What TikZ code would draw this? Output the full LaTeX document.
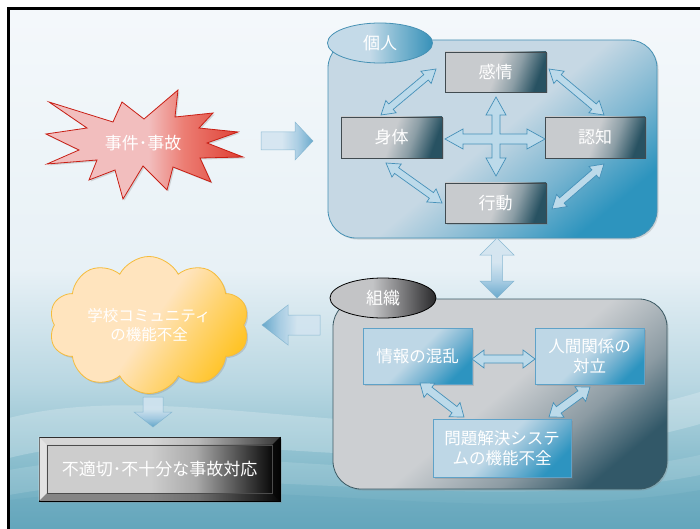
\documentclass[tikz,border=0pt]{standalone}
\usepackage{fontspec}
\setmainfont{Noto Sans CJK JP}
\usetikzlibrary{calc,shapes.symbols,shapes.geometric,shadows}

% palette
\definecolor{bgTop}{RGB}{244,248,251}
\definecolor{bgMid}{RGB}{232,241,246}
\definecolor{bgLow}{RGB}{185,215,226}
\definecolor{bgWave}{RGB}{135,188,204}
\definecolor{bgBot}{RGB}{100,166,188}
\definecolor{gAlight}{RGB}{198,216,228}
\definecolor{gAmid}{RGB}{120,180,208}
\definecolor{gAdark}{RGB}{45,148,190}
\definecolor{gAline}{RGB}{70,145,180}
\definecolor{gBlight}{RGB}{204,207,210}
\definecolor{gBmid}{RGB}{140,155,163}
\definecolor{gBdark}{RGB}{50,88,104}
\definecolor{gBline}{RGB}{60,90,100}
\definecolor{bxGray}{RGB}{200,203,206}
\definecolor{bxMid}{RGB}{140,158,166}
\definecolor{bxDark}{RGB}{40,82,98}
\definecolor{bxLine}{RGB}{65,75,80}
\definecolor{obLight}{RGB}{190,215,230}
\definecolor{obMid}{RGB}{120,180,210}
\definecolor{obDark}{RGB}{45,148,192}
\definecolor{obLine}{RGB}{95,162,200}
\definecolor{elAlight}{RGB}{196,218,232}
\definecolor{elAmid}{RGB}{130,185,210}
\definecolor{elAdark}{RGB}{55,145,185}
\definecolor{elBlight}{RGB}{195,196,198}
\definecolor{elBmid}{RGB}{130,130,132}
\definecolor{elBdark}{RGB}{40,40,42}
\definecolor{burstLight}{RGB}{242,190,190}
\definecolor{burstMid}{RGB}{236,125,115}
\definecolor{burstDark}{RGB}{222,62,50}
\definecolor{burstLine}{RGB}{200,30,20}
\definecolor{cloudLight}{RGB}{255,228,190}
\definecolor{cloudMid}{RGB}{255,212,115}
\definecolor{cloudDark}{RGB}{255,196,40}
\definecolor{cloudLine}{RGB}{245,188,60}
\definecolor{bevLight}{RGB}{205,205,205}
\definecolor{bevMid}{RGB}{170,170,170}
\definecolor{bevDark}{RGB}{10,10,10}
\definecolor{arrLight}{RGB}{210,228,240}
\definecolor{arrMid}{RGB}{160,200,225}
\definecolor{arrDark}{RGB}{85,158,198}
\definecolor{arrLine}{RGB}{70,145,185}
\definecolor{dblFill}{RGB}{188,218,234}

% shadings (25bp = near edge, 75bp = far edge)
\pgfdeclareverticalshading{bgshade}{100bp}{color(0bp)=(bgBot); color(25bp)=(bgBot); color(31bp)=(bgWave); color(39bp)=(bgLow); color(50bp)=(bgMid); color(75bp)=(bgTop); color(100bp)=(bgTop)}
\pgfdeclarehorizontalshading{grpAshade}{100bp}{color(0bp)=(gAlight); color(25bp)=(gAlight); color(50bp)=(gAlight); color(64bp)=(gAmid); color(75bp)=(gAdark); color(100bp)=(gAdark)}
\pgfdeclarehorizontalshading{grpBshade}{100bp}{color(0bp)=(gBlight); color(25bp)=(gBlight); color(50bp)=(gBlight); color(64bp)=(gBmid); color(75bp)=(gBdark); color(100bp)=(gBdark)}
\pgfdeclarehorizontalshading{grayboxshade}{100bp}{color(0bp)=(bxGray); color(25bp)=(bxGray); color(50bp)=(bxGray); color(62bp)=(bxMid); color(75bp)=(bxDark); color(100bp)=(bxDark)}
\pgfdeclarehorizontalshading{blueboxshade}{100bp}{color(0bp)=(obLight); color(25bp)=(obLight); color(48bp)=(obLight); color(62bp)=(obMid); color(75bp)=(obDark); color(100bp)=(obDark)}
\pgfdeclarehorizontalshading{elAshade}{100bp}{color(0bp)=(elAlight); color(25bp)=(elAlight); color(45bp)=(elAlight); color(58bp)=(elAmid); color(75bp)=(elAdark); color(100bp)=(elAdark)}
\pgfdeclarehorizontalshading{elBshade}{100bp}{color(0bp)=(elBlight); color(25bp)=(elBlight); color(45bp)=(elBlight); color(58bp)=(elBmid); color(75bp)=(elBdark); color(100bp)=(elBdark)}
\pgfdeclarehorizontalshading{burstshade}{100bp}{color(0bp)=(burstLight); color(25bp)=(burstLight); color(51bp)=(burstLight); color(60bp)=(burstMid); color(75bp)=(burstDark); color(100bp)=(burstDark)}
\pgfdeclarehorizontalshading{cloudshade}{100bp}{color(0bp)=(cloudLight); color(25bp)=(cloudLight); color(50bp)=(cloudLight); color(62bp)=(cloudMid); color(75bp)=(cloudDark); color(100bp)=(cloudDark)}
\pgfdeclarehorizontalshading{bevshade}{100bp}{color(0bp)=(bevLight); color(25bp)=(bevLight); color(48bp)=(bevLight); color(58bp)=(bevMid); color(75bp)=(bevDark); color(100bp)=(bevDark)}
\pgfdeclarehorizontalshading{arrshade}{100bp}{color(0bp)=(arrLight); color(25bp)=(arrLight); color(45bp)=(arrLight); color(60bp)=(arrMid); color(75bp)=(arrDark); color(100bp)=(arrDark)}

% double-headed block arrow: [style]{end A}{end B}{shaft half}{head half}{head length}
\newcommand\blockdbl[6][]{%
  \coordinate (bdA) at ($(#2)!#6!(#3)$);
  \coordinate (bdB) at ($(#3)!#6!(#2)$);
  \draw[#1] (#2)
    -- ($(bdA)!#5!90:(#3)$) -- ($(bdA)!#4!90:(#3)$)
    -- ($(bdB)!#4!-90:(#2)$) -- ($(bdB)!#5!-90:(#2)$)
    -- (#3)
    -- ($(bdB)!#5!90:(#2)$) -- ($(bdB)!#4!90:(#2)$)
    -- ($(bdA)!#4!-90:(#3)$) -- ($(bdA)!#5!-90:(#3)$)
    -- cycle;}
% single-headed block arrow: [style]{tail}{tip}{shaft half}{head half}{head length}
\newcommand\blocksgl[6][]{%
  \coordinate (bsB) at ($(#3)!#6!(#2)$);
  \draw[#1] ($(#2)!#4!90:(#3)$)
    -- ($(bsB)!#4!-90:(#2)$) -- ($(bsB)!#5!-90:(#2)$)
    -- (#3)
    -- ($(bsB)!#5!90:(#2)$) -- ($(bsB)!#4!90:(#2)$)
    -- ($(#2)!#4!-90:(#3)$) -- cycle;}

\tikzset{
  lbl/.style={text=white, align=center, font=\fontsize{17}{20}\selectfont},
  softshadow/.style={drop shadow={opacity=0.28, shadow xshift=1.5pt, shadow yshift=-1.5pt}},
  grpA/.style={shade, shading=grpAshade, shading angle=-50, draw=gAline, line width=0.8pt,
    rounded corners=28pt, softshadow},
  grpB/.style={shade, shading=grpBshade, shading angle=-50, draw=gBline, line width=0.8pt,
    rounded corners=28pt, softshadow},
  graybox/.style={shade, shading=grayboxshade, shading angle=-20, draw=bxLine, line width=0.7pt,
    lbl, softshadow},
  bluebox/.style={shade, shading=blueboxshade, shading angle=-45, draw=obLine, line width=0.7pt,
    lbl, font=\fontsize{16.5}{20}\selectfont, softshadow},
  tagA/.style={ellipse, shade, shading=elAshade, draw=gAline, line width=0.8pt, lbl,
    minimum width=105pt, minimum height=40pt, inner sep=0pt},
  tagB/.style={ellipse, shade, shading=elBshade, draw=black, line width=0.8pt, lbl,
    minimum width=106pt, minimum height=40pt, inner sep=0pt},
  thinarrow/.style={fill=dblFill, draw=arrLine, line width=0.7pt, line join=miter},
  bigarrow/.style={shade, shading=arrshade, draw=arrLine!70, line width=0.5pt, opacity=0.85},
}

\begin{document}
\begin{tikzpicture}[x=1pt,y=-1pt]
\useasboundingbox (0,0) rectangle (700,529);
\fill[white] (0,0) rectangle (700,529);

% backdrop with soft waves
\shade[shading=bgshade] (9,9) rectangle (700,529);
\fill[white,opacity=0.22] (9,418) .. controls (190,372) and (430,472) .. (700,392)
  -- (700,424) .. controls (430,500) and (190,412) .. (9,458) -- cycle;
\fill[white,opacity=0.12] (9,470) .. controls (230,430) and (470,505) .. (700,455)
  -- (700,475) .. controls (470,520) and (230,455) .. (9,495) -- cycle;
\fill[bgBot,opacity=0.35] (9,500) .. controls (250,470) and (470,529) .. (700,490)
  -- (700,529) -- (9,529) -- cycle;
\draw[line width=2.5pt] (8.5,529) -- (8.5,8.5) -- (700,8.5);

% incident burst
\draw[shade, shading=burstshade, draw=burstLine, line width=0.8pt, line join=miter, softshadow]
  (49,102) -- (113,122) -- (122,102) -- (144,119) -- (178,90) -- (175,117) -- (213,113)
  -- (199,128) -- (238,132) -- (207,143) -- (243,157) -- (200,158) -- (211,182) -- (173,167)
  -- (167,190) -- (143,166) -- (123,199) -- (115,170) -- (89,180) -- (97,160) -- (47,164)
  -- (79,150) -- (46,134) -- (87,128) -- cycle;
\node[lbl] (incident) at (143,143) {事件･事故};

% individual level
\node[grpA, minimum width=329pt, minimum height=198pt] (indiv) at (492.5,139) {};
\node[tagA] (indivtag) at (380,43) {\raisebox{-2pt}{個人}};
\node[graybox, minimum width=101pt, minimum height=40pt] (emotion) at (495.5,72) {感情};
\node[graybox, minimum width=101pt, minimum height=41pt] (body) at (391.5,137.5) {身体};
\node[graybox, minimum width=100pt, minimum height=41pt] (cognition) at (595,137.5) {認知};
\node[graybox, minimum width=101pt, minimum height=40pt] (behavior) at (495.5,203) {行動};

\coordinate (bodyE1) at (381,115);   \coordinate (emoB1) at (436,69);
\coordinate (emoC1) at (549,69);     \coordinate (cogE1) at (604,115);
\coordinate (bodyB1) at (386,163);   \coordinate (behB1) at (442,203);
\coordinate (cogB1) at (604,164);    \coordinate (behC1) at (552,209);
\blockdbl[thinarrow]{bodyE1}{emoB1}{3.5pt}{8pt}{13pt}
\blockdbl[thinarrow]{emoC1}{cogE1}{3.5pt}{8pt}{13pt}
\blockdbl[thinarrow]{bodyB1}{behB1}{3.5pt}{8pt}{13pt}
\blockdbl[thinarrow]{cogB1}{behC1}{3.5pt}{8pt}{13pt}

% four-way arrow in the middle
\draw[thinarrow, fill=dblFill] (496,97) -- (506,115) -- (500,115) -- (500,134) -- (527,134)
  -- (527,129) -- (545,139) -- (527,149) -- (527,144) -- (500,144) -- (500,158) -- (506,158)
  -- (496,176) -- (486,158) -- (492,158) -- (492,144) -- (463,144) -- (463,149) -- (445,139)
  -- (463,129) -- (463,134) -- (492,134) -- (492,115) -- (486,115) -- cycle;

% organisation level
\node[grpB, minimum width=334pt, minimum height=190pt] (org) at (500,394) {};
\node[tagB] (orgtag) at (383,298) {\raisebox{-2pt}{組織}};
\node[bluebox, minimum width=109pt, minimum height=56pt] (info) at (417.5,356) {情報の混乱};
\node[bluebox, minimum width=109pt, minimum height=56pt] (relation) at (589.5,356) {人間関係の\\対立};
\node[bluebox, minimum width=138pt, minimum height=58pt] (system) at (502,448) {問題解決システ\\ムの機能不全};

\coordinate (infoR) at (472,359);    \coordinate (relL) at (535,359);
\coordinate (infoB) at (420,383);    \coordinate (sysL) at (464,417);
\coordinate (relB) at (590,387);     \coordinate (sysR) at (549,417);
\blockdbl[thinarrow]{infoR}{relL}{4pt}{9pt}{12pt}
\blockdbl[thinarrow]{infoB}{sysL}{4pt}{9pt}{12pt}
\blockdbl[thinarrow]{relB}{sysR}{4pt}{9pt}{12pt}

% link between the two levels
\coordinate (indivS) at (497,238);   \coordinate (orgN) at (497,298);
\blockdbl[bigarrow, shading angle=-90]{indivS}{orgN}{5.5pt}{17pt}{17pt}

% incident into the individual
\coordinate (burstE) at (261,141);   \coordinate (indivW) at (313,141);
\blocksgl[bigarrow]{burstE}{indivW}{9pt}{19pt}{18pt}

% school community
\node[cloud, cloud puffs=10, cloud puff arc=125, aspect=1.7, shade, shading=cloudshade,
  shading angle=-35, draw=cloudLine, line width=0.8pt, minimum width=200pt, minimum height=118pt,
  lbl, font=\fontsize{15.5}{19.5}\selectfont, softshadow] (school) at (149,325)
  {学校コミュニティ\\の機能不全};

\coordinate (orgW) at (320,325);     \coordinate (schoolE) at (262,325);
\blocksgl[bigarrow, shading angle=180]{orgW}{schoolE}{10pt}{20pt}{26pt}

\coordinate (schoolS) at (153,397);  \coordinate (respN) at (153,427);
\blocksgl[bigarrow, shading angle=-90]{schoolS}{respN}{10pt}{19pt}{15pt}

% inadequate response (bevelled plate)
\node[shade, shading=bevshade, draw=black, line width=0.8pt, minimum width=241pt,
  minimum height=64pt, softshadow] (resp) at (159.5,469) {};
\fill[white,opacity=0.45] (resp.north west) -- (resp.south west) -- ($(resp.south west)+(8,-8)$)
  -- ($(resp.north west)+(8,8)$) -- cycle;
\fill[white,opacity=0.18] (resp.north west) -- (resp.north east) -- ($(resp.north east)+(-8,8)$)
  -- ($(resp.north west)+(8,8)$) -- cycle;
\fill[black,opacity=0.35] (resp.south west) -- (resp.south east) -- ($(resp.south east)+(-8,-8)$)
  -- ($(resp.south west)+(8,-8)$) -- cycle;
\fill[black,opacity=0.6] (resp.north east) -- (resp.south east) -- ($(resp.south east)+(-8,-8)$)
  -- ($(resp.north east)+(-8,8)$) -- cycle;
\node[shade, shading=bevshade, draw=black!70, line width=0.5pt, minimum width=225pt,
  minimum height=48pt, lbl] (resptext) at (resp.center) {不適切･不十分な事故対応};
\end{tikzpicture}
\end{document}
